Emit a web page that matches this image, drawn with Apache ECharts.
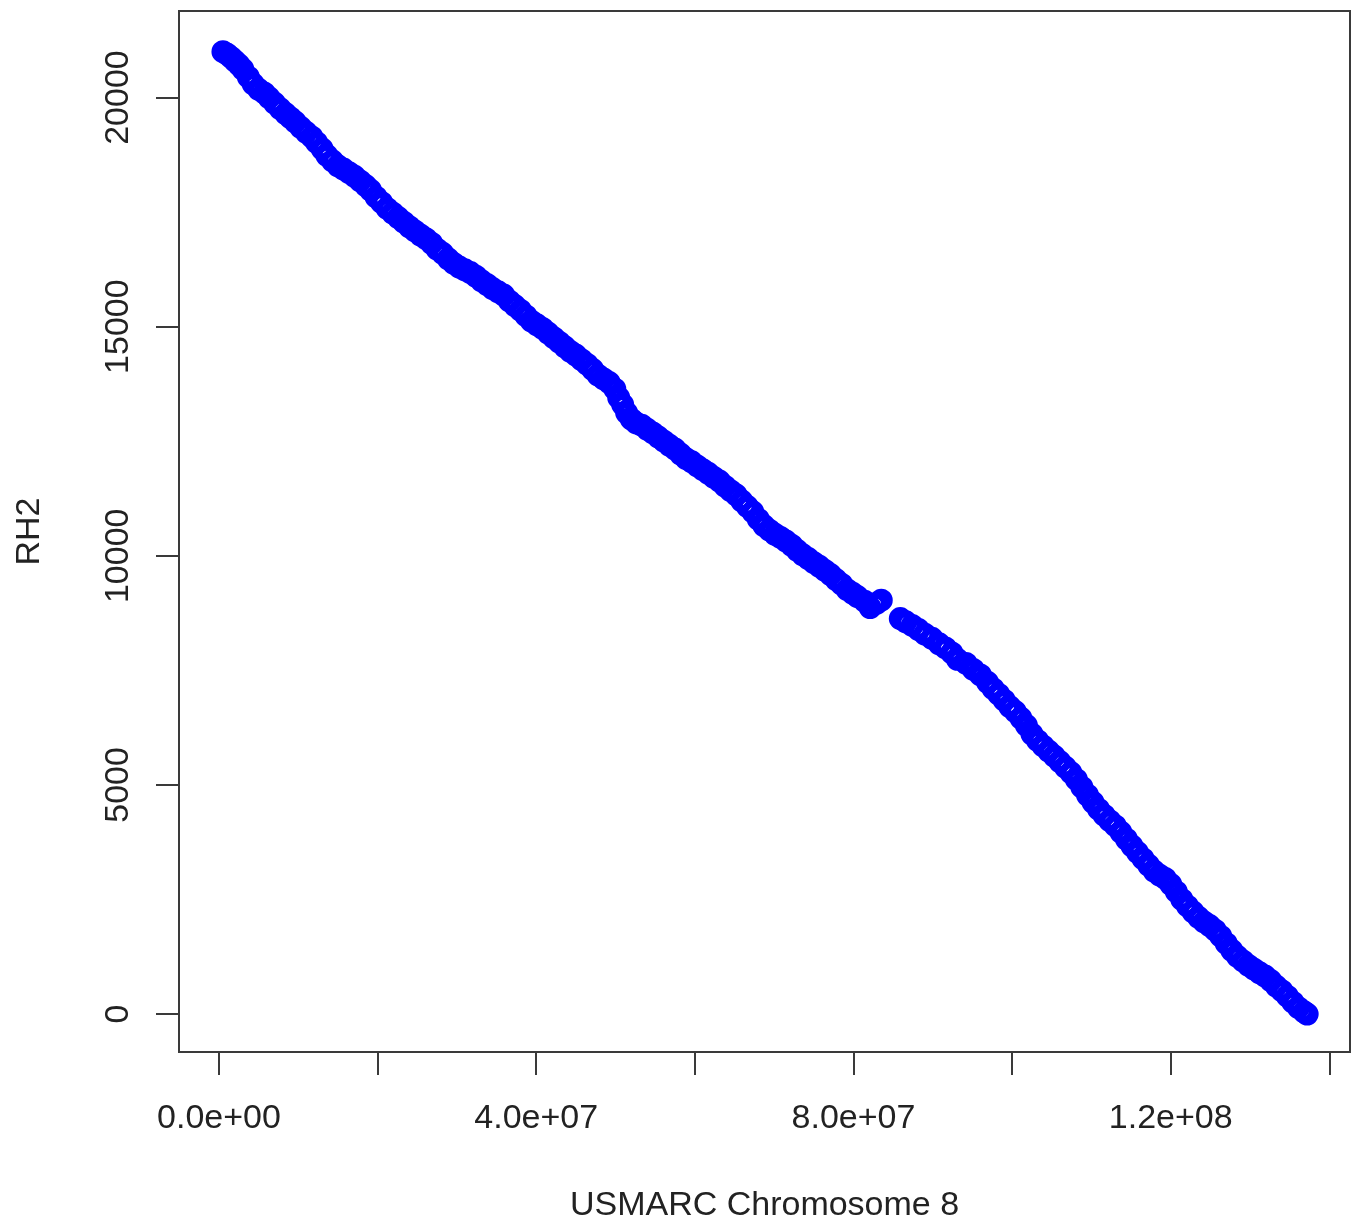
<!DOCTYPE html>
<html><head><meta charset="utf-8">
<script src="https://cdn.jsdelivr.net/npm/echarts@6/dist/echarts.min.js"></script>
<style>html,body{margin:0;padding:0;background:#fff}#c{width:1357px;height:1228px}</style>
</head><body><div id="c"></div>
<script>
// USMARC position (Mb) vs RH2 position
const positionMb = [0.5,1.0,1.5,2.0,2.5,3.0,3.7,4.3,5.0,5.7,6.3,7.0,7.7,8.4,9.0,9.6,10.3,11.0,11.7,12.3,13.0,13.6,14.3,15.0,15.7,16.4,17.1,17.8,18.5,19.1,19.8,20.5,21.2,21.9,22.6,23.3,24.0,24.7,25.4,26.1,26.8,27.5,28.2,28.9,29.6,30.3,31.0,31.7,32.4,33.1,33.8,34.5,35.2,35.9,36.6,37.3,38.0,38.7,39.4,40.1,40.8,41.5,42.2,42.9,43.6,44.3,45.0,45.7,46.4,47.1,47.8,48.5,49.2,49.9,50.4,50.9,51.4,52.0,52.6,53.3,54.0,54.7,55.4,56.1,56.8,57.5,58.2,58.9,59.6,60.3,61.0,61.7,62.4,63.1,63.8,64.5,65.2,65.9,66.6,67.3,68.0,68.7,69.4,70.1,70.8,71.5,72.2,72.9,73.6,74.3,75.0,75.7,76.4,77.1,77.8,78.5,79.2,79.9,80.5,81.4,82.1,82.9,83.5,85.9,86.6,87.4,88.2,89.0,89.9,90.8,91.6,92.4,93.1,94.2,95.1,96.0,96.9,97.6,98.3,99.0,99.7,100.4,101.1,101.8,102.5,103.2,103.9,104.6,105.3,106.0,106.7,107.4,108.1,108.8,109.5,110.2,110.9,111.6,112.3,113.0,113.7,114.4,115.1,115.8,116.5,117.2,117.9,118.6,119.3,120.0,120.7,121.4,122.1,122.8,123.5,124.2,124.9,125.6,126.3,127.0,127.7,128.4,129.1,129.8,130.5,131.2,131.9,132.6,133.3,134.0,134.7,135.4,136.1,136.8,137.2];
const rh2 = [21000,20950,20880,20800,20720,20620,20450,20300,20180,20100,20000,19880,19760,19650,19560,19470,19350,19240,19140,19020,18880,18740,18620,18510,18440,18360,18280,18180,18080,17980,17830,17710,17580,17480,17380,17280,17180,17090,17000,16920,16820,16690,16600,16480,16380,16300,16240,16180,16100,16000,15920,15830,15760,15690,15560,15460,15360,15240,15120,15040,14960,14860,14760,14660,14560,14460,14380,14280,14180,14070,13940,13860,13780,13640,13450,13300,13120,12980,12900,12850,12760,12680,12590,12500,12410,12330,12220,12120,12050,11960,11880,11800,11710,11630,11520,11420,11330,11200,11080,10960,10800,10660,10560,10470,10400,10320,10230,10120,10020,9940,9850,9770,9680,9590,9480,9380,9260,9180,9110,9010,8870,8960,9030,8630,8560,8480,8390,8290,8200,8080,7990,7880,7740,7650,7520,7400,7240,7100,6980,6850,6710,6600,6460,6300,6110,5970,5850,5740,5630,5510,5390,5270,5120,4950,4780,4620,4470,4340,4220,4110,3970,3820,3670,3530,3390,3250,3120,3030,2960,2830,2670,2500,2360,2230,2110,2010,1930,1830,1700,1540,1390,1260,1160,1060,980,900,830,730,610,510,390,260,140,50,0];

const xTickValues = [0, 2e7, 4e7, 6e7, 8e7, 1e8, 1.2e8, 1.4e8];
const xLabelValues = [0, 4e7, 8e7, 1.2e8];
const yTickValues = [0, 5000, 10000, 15000, 20000];
const xTitle = 'USMARC Chromosome 8';
const yTitle = 'RH2';

const points = positionMb.map((p, i) => [p * 1e6, rh2[i]]);

function rSci(v) {
  const s = v.toExponential(1);
  const parts = s.split('e');
  const sign = parts[1][0];
  const d = parts[1].slice(1).padStart(2, '0');
  return parts[0] + 'e' + sign + d;
}

const FONT = 'Liberation Sans, Arial, Helvetica, sans-serif';
const INK = '#222';
const LINE = '#3a3a3a';

const chart = echarts.init(document.getElementById('c'), null, {renderer: 'canvas'});
chart.setOption({
  animation: false,
  backgroundColor: '#fff',
  grid: {left: 179, top: 11, right: 7, bottom: 175, show: true, borderColor: LINE, borderWidth: 2, backgroundColor: 'transparent'},
  xAxis: {
    type: 'value', min: -5.04e6, max: 142.6e6,
    axisLine: {show: false, onZero: false},
    splitLine: {show: false},
    axisTick: {show: true, inside: false, length: 23, customValues: xTickValues, lineStyle: {color: LINE, width: 2}},
    axisLabel: {show: true, customValues: xLabelValues, formatter: rSci, margin: 50, fontFamily: FONT, fontSize: 34, color: INK},
    name: xTitle, nameLocation: 'middle', nameGap: 137,
    nameTextStyle: {fontFamily: FONT, fontSize: 34, color: INK}
  },
  yAxis: {
    type: 'value', min: -828, max: 21888,
    axisLine: {show: false, onZero: false},
    splitLine: {show: false},
    axisTick: {show: true, inside: false, length: 23, customValues: yTickValues, lineStyle: {color: LINE, width: 2}},
    axisLabel: {show: true, customValues: yTickValues, rotate: 90, margin: 43, formatter: v => String(v), fontFamily: FONT, fontSize: 34, color: INK},
    name: yTitle, nameLocation: 'middle', nameGap: 132,
    nameTextStyle: {fontFamily: FONT, fontSize: 34, color: INK}
  },
  series: [{
    type: 'scatter',
    data: points,
    symbol: 'circle',
    symbolSize: 16,
    itemStyle: {color: 'rgba(0,0,255,0)', borderColor: '#0000ff', borderWidth: 7, opacity: 1},
    emphasis: {disabled: true},
    silent: true
  }]
});
</script>
</body></html>
